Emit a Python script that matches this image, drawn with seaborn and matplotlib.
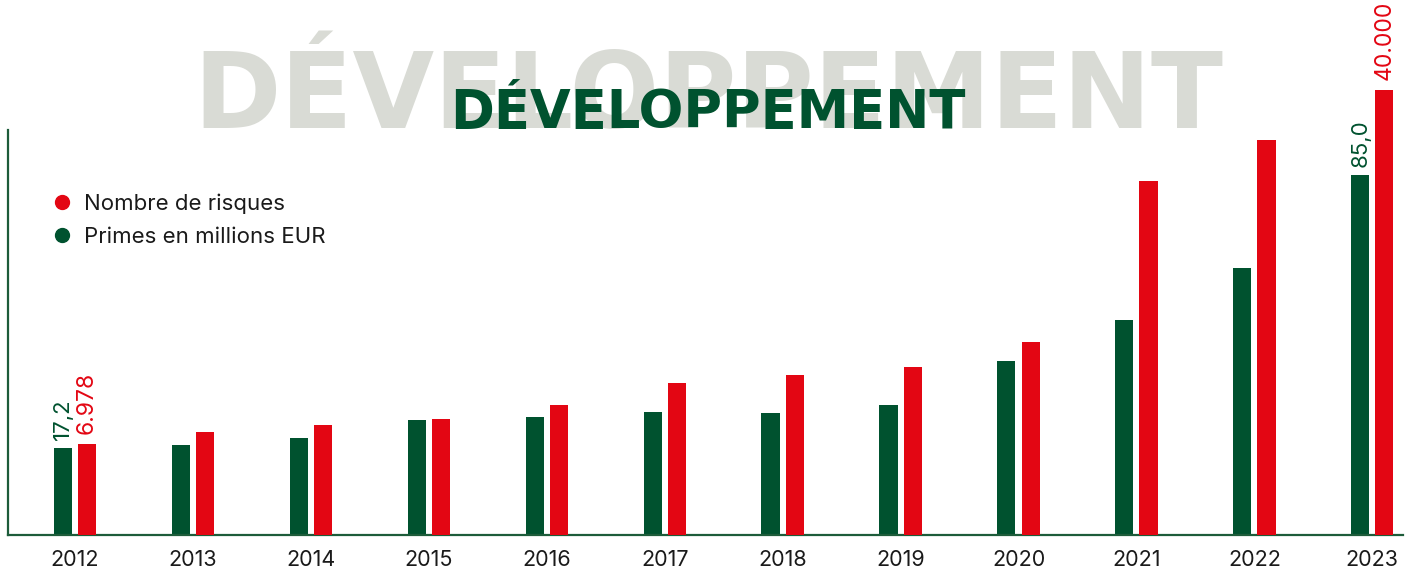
"""
Développement : primes (millions EUR) et nombre de risques, 2012-2023
Barres groupées sur deux échelles (twinx), titre en filigrane
"""
import numpy as np
import pandas as pd
import matplotlib
matplotlib.use("Agg")
import matplotlib.pyplot as plt
from matplotlib.lines import Line2D
import seaborn as sns

# ── Données (2012 et 2023 sont étiquetées)
annees  = [str(a) for a in range(2012, 2024)]
primes  = [17.2, 18.0, 19.7, 24.2, 24.9, 26.1, 25.9, 27.9, 38.8, 49.0, 61.9, 85.0]
risques = [6978, 8100, 8750, 9300, 10600, 12650, 13400, 14150, 16500, 31500, 35350, 40000]

PRIMES  = "Primes en millions EUR"
RISQUES = "Nombre de risques"
TITRE   = "DÉVELOPPEMENT"

VERT  = "#00522F"
ROUGE = "#E30613"
AXE   = "#1D5C3A"
GRIS  = "#D9DBD5"

df = pd.DataFrame({
    "annee": annees * 2,
    "serie": [PRIMES] * len(annees) + [RISQUES] * len(annees),
    "valeur": primes + risques,
})

# les barres de l'original partent d'un "pied" sous le zéro : échelle décalée
def decale(c):
    fwd = lambda v: np.where(v > 0, v + c, v)
    inv = lambda u: np.where(u > c, u - c, np.minimum(u, 0))
    return fwd, inv

def barres(a):
    # le conteneur qui porte vraiment des barres
    return [c for c in a.containers if len(c) and all(p is not None for p in c)][0]

sns.set_theme(style="white")
plt.rcParams["font.family"] = ["Inter", "DejaVu Sans"]

fig = plt.figure(figsize=(14.12, 5.72), dpi=100)
ax = fig.add_axes([8 / 1412, 37.5 / 572, 1395 / 1412, 534.5 / 572])
ax.set_facecolor("none")
ax2 = ax.twinx()
ax2.set_facecolor("none")

kw = dict(x="annee", y="valeur", hue="serie", hue_order=[PRIMES, RISQUES],
          palette={PRIMES: VERT, RISQUES: ROUGE}, dodge=True, saturation=1,
          width=0.41, gap=0.25, legend=False, errorbar=None, linewidth=0)
sns.barplot(data=df[df.serie == PRIMES], ax=ax, **kw)
sns.barplot(data=df[df.serie == RISQUES], ax=ax2, **kw)

ax.set_yscale("function", functions=decale(4.28))
ax2.set_yscale("function", functions=decale(1465))
ax.set_ylim(0, 128.5)
ax2.set_ylim(0, 48395)
ax.set_xlim(-0.568, 11.26)

# étiquettes des valeurs extrêmes
def fmt_primes(v):
    return f"{v:.1f}".replace(".", ",")

def fmt_risques(v):
    return f"{v:,.0f}".replace(",", ".")

lab_p = [fmt_primes(v) if i in (0, len(primes) - 1) else "" for i, v in enumerate(primes)]
lab_r = [fmt_risques(v) if i in (0, len(risques) - 1) else "" for i, v in enumerate(risques)]
ax.bar_label(barres(ax), labels=lab_p, rotation=90, padding=6,
             color=VERT, fontsize=16)
ax2.bar_label(barres(ax2), labels=lab_r, rotation=90, padding=7,
              color=ROUGE, fontsize=16.5)

# axes
for s in ["top", "right"]:
    ax.spines[s].set_visible(False)
for s in ax2.spines.values():
    s.set_visible(False)
ax.spines["left"].set_bounds(0, 96.2)
for s in ["left", "bottom"]:
    ax.spines[s].set_color(AXE)
    ax.spines[s].set_linewidth(1.6)
ax.set_yticks([])
ax2.set_yticks([])
ax.set_xlabel("")
ax.set_ylabel("")
ax2.set_ylabel("")
ax.tick_params(axis="x", length=0, pad=11, labelsize=15.5, labelcolor="#1A1A1A")

# légende
handles = [Line2D([], [], marker="o", ls="", color=ROUGE, markersize=10),
           Line2D([], [], marker="o", ls="", color=VERT, markersize=10)]
fig.legend(handles, [RISQUES, PRIMES], loc="center left",
           bbox_to_anchor=(53.5 / 1412, 1 - 220 / 572), frameon=False,
           fontsize=16, handlelength=0.75, handletextpad=0.62,
           borderpad=0, borderaxespad=0, labelspacing=0.6,
           labelcolor="#1A1A1A")

# titres
fig.text(0.502, 1 - 128 / 572, TITRE, ha="center", va="baseline",
         fontsize=76, fontweight="bold", color=GRIS, family="DejaVu Sans", zorder=1)
fig.text(0.501, 1 - 128 / 572, TITRE, ha="center", va="baseline",
         fontsize=38, fontweight="bold", color=VERT, family="DejaVu Sans", zorder=2)

fig.savefig("out.png", dpi=100)
